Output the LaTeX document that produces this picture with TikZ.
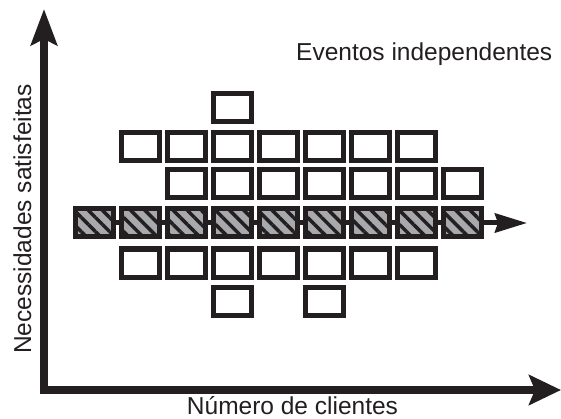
\documentclass[tikz,border=0pt]{standalone}
\usepackage{fontspec}
\setmainfont{Liberation Sans}
\usetikzlibrary{arrows.meta,patterns.meta}
\definecolor{ink}{HTML}{231F20}
\definecolor{hgray}{HTML}{A7A9AC}
\begin{document}
\begin{tikzpicture}[x=1pt,y=-1pt,
  ebox/.style={draw=ink,line width=5pt,minimum width=38pt,minimum height=28pt,inner sep=0pt,fill=white},
  hbox/.style={draw=ink,line width=5pt,minimum width=38pt,minimum height=28pt,inner sep=0pt,
    preaction={fill=hgray},pattern={Lines[angle=-45,distance=10pt,line width=3.5pt]},pattern color=ink},
  axis/.style={draw=ink,line width=7.5pt,line join=miter},
  lbl/.style={inner sep=0pt,font=\fontsize{24.5}{29}\selectfont,text=ink}]
\useasboundingbox (0,0) rectangle (561,419);
% axes
\coordinate (ytip) at (44,9);
\coordinate (orig) at (44,390);
\coordinate (xtip) at (561,390);
\draw[axis,{Stealth[length=36pt,width=26pt,inset=6pt]}-{Stealth[length=32pt,width=30pt,inset=6pt]}]
  (ytip) -- (orig) -- (xtip);
% hatched row connector
\coordinate (harrow) at (527,223);
\foreach \i in {0,...,8} {\coordinate (hc\i) at ({94.5+46*\i},223);}
\draw[draw=ink,line width=5pt,-{Stealth[length=32pt,width=19pt,inset=3pt]}] (hc0) -- (harrow);
\foreach \i in {0,...,8} {\node[hbox] (h\i) at (hc\i) {};}
% top box
\node[ebox] (t3) at ({94.5+46*3},107.5) {};
% row 2
\foreach \i in {1,...,7} {\node[ebox] (a\i) at ({94.5+46*\i},146.5) {};}
% row 3
\foreach \i in {2,...,8} {\node[ebox] (b\i) at ({94.5+46*\i},183.5) {};}
% row 4
\foreach \i in {1,...,7} {\node[ebox] (d\i) at ({94.5+46*\i},263) {};}
% row 5
\node[ebox] (e3) at ({94.5+46*3},301.5) {};
\node[ebox] (e5) at ({94.5+46*5},301.5) {};
% labels
\node[lbl,anchor=base west] (title) at (296,61) {Eventos independentes};
\node[lbl,anchor=base] (xlab) at (292.5,414) {Número de clientes};
\node[lbl,anchor=base,rotate=90] (ylab) at (31,219) {Necessidades satisfeitas};
\end{tikzpicture}
\end{document}
